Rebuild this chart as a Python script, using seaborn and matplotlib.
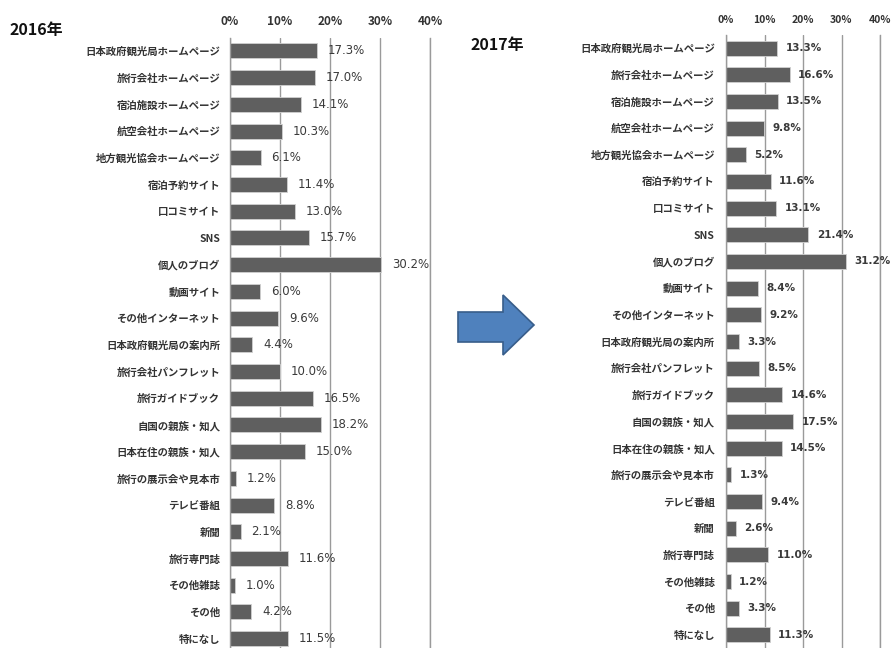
import matplotlib
matplotlib.use("Agg")
import matplotlib.pyplot as plt
import seaborn as sns
import numpy as np
from matplotlib.patches import Polygon

categories = [
    "日本政府観光局ホームページ", "旅行会社ホームページ", "宿泊施設ホームページ",
    "航空会社ホームページ", "地方観光協会ホームページ", "宿泊予約サイト", "口コミサイト",
    "SNS", "個人のブログ", "動画サイト", "その他インターネット", "日本政府観光局の案内所",
    "旅行会社パンフレット", "旅行ガイドブック", "自国の親族・知人", "日本在住の親族・知人",
    "旅行の展示会や見本市", "テレビ番組", "新聞", "旅行専門誌", "その他雑誌", "その他", "特になし",
]
values_2016 = [17.3, 17.0, 14.1, 10.3, 6.1, 11.4, 13.0, 15.7, 30.2, 6.0, 9.6, 4.4,
               10.0, 16.5, 18.2, 15.0, 1.2, 8.8, 2.1, 11.6, 1.0, 4.2, 11.5]
values_2017 = [13.3, 16.6, 13.5, 9.8, 5.2, 11.6, 13.1, 21.4, 31.2, 8.4, 9.2, 3.3,
               8.5, 14.6, 17.5, 14.5, 1.3, 9.4, 2.6, 11.0, 1.2, 3.3, 11.3]
xticks = [0, 10, 20, 30, 40]
xtick_labels = ["0%", "10%", "20%", "30%", "40%"]
titles = ["2016年", "2017年"]

sns.set_style("white")
plt.rcParams['font.family'] = ['Noto Sans CJK JP', 'DejaVu Sans']

W, H = 891, 648
fig = plt.figure(figsize=(W / 100, H / 100), dpi=100)
fig.patch.set_facecolor("white")

def make_ax(left_px, right_px, top_px, bottom_px):
    return fig.add_axes([left_px / W, (H - bottom_px) / H,
                         (right_px - left_px) / W, (bottom_px - top_px) / H])

ax1 = make_ax(230, 430, 37.6, 652)
ax2 = make_ax(726, 880, 34.7, 648.3)

grid_col = "#9a9a9a"
text_col = "#333333"

def draw(ax, vals, val_pad, val_fs, val_weight, lab_pad, xfs):
    sns.barplot(x=vals, y=categories, ax=ax, color="#5f5f5f", width=0.56,
                orient="h", edgecolor="#d0d0d0", linewidth=0.6, saturation=1)
    ax.set_xlim(0, 40)
    ax.set_ylim(len(categories) - 0.5, -0.5)
    ax.set_xticks(xticks)
    ax.set_xticklabels(xtick_labels, fontweight="bold")
    ax.xaxis.tick_top()
    ax.tick_params(axis="x", length=0, pad=7, labelsize=xfs, labelcolor=text_col)
    ax.tick_params(axis="y", which="major", length=0, pad=lab_pad,
                   labelsize=7.5, labelcolor=text_col)
    for t in ax.get_yticklabels():
        t.set_fontweight("bold")
    ax.set_yticks(np.arange(-0.5, len(categories), 1.0), minor=True)
    ax.tick_params(axis="y", which="minor", length=4, color=grid_col, width=1)
    ax.set_xlabel("")
    ax.set_ylabel("")
    ax.grid(axis="x", color=grid_col, linewidth=1)
    ax.grid(axis="y", visible=False)
    ax.set_axisbelow(True)
    for s in ["top", "bottom"]:
        ax.spines[s].set_visible(False)
    ax.spines["left"].set_color(grid_col)
    ax.spines["right"].set_color(grid_col)
    ax.spines["left"].set_linewidth(1)
    ax.spines["right"].set_linewidth(1)
    ax.bar_label(ax.containers[0], labels=[f"{v:.1f}%" for v in vals],
                 padding=val_pad, fontsize=val_fs, color="#3a3a3a",
                 fontweight=val_weight, family=["DejaVu Sans"])

draw(ax1, values_2016, 8, 8.5, "normal", 7, 8.5)
draw(ax2, values_2017, 6, 7.5, "bold", 8, 7.5)

fig.text(10 / W, 1 - 30 / H, titles[0], fontsize=11.5, fontweight="bold",
         va="center", ha="left", color="#111111")
fig.text(470 / W, 1 - 45 / H, titles[1], fontsize=11.5, fontweight="bold",
         va="center", ha="left", color="#111111")

# arrow
pts_px = [(458, 312), (503, 312), (503, 295), (534, 325), (503, 355), (503, 342), (458, 342)]
pts = [(x / W, 1 - y / H) for x, y in pts_px]
arrow = Polygon(pts, closed=True, facecolor="#4f81bd", edgecolor="#385d8a",
                linewidth=1.2, transform=fig.transFigure)
fig.patches.append(arrow)

fig.savefig("out.png", dpi=100, facecolor="white")
